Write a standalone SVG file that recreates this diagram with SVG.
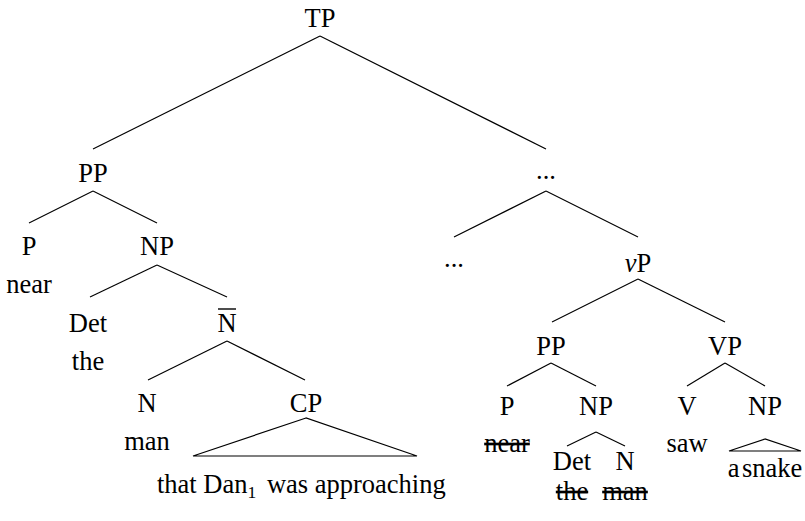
<svg xmlns="http://www.w3.org/2000/svg" width="805" height="521" viewBox="0 0 805 521">
<style>
text{font-family:'Liberation Serif','Times New Roman',serif;font-size:26.5px;fill:#000;text-anchor:middle}
.e line,.e polygon{stroke:#000;stroke-width:1.2;fill:none}
.s{text-decoration:line-through}
</style>
<rect width="805" height="521" fill="#fff"/>
<g class="e" id="edges">
<line x1="320" y1="36" x2="93" y2="149"/>
<line x1="320" y1="36" x2="546" y2="149"/>
<line x1="93" y1="191" x2="29" y2="223"/>
<line x1="93" y1="191" x2="157" y2="223"/>
<line x1="157" y1="265" x2="90" y2="297"/>
<line x1="157" y1="265" x2="227" y2="297"/>
<line x1="227" y1="341" x2="148" y2="380"/>
<line x1="227" y1="341" x2="305" y2="380"/>
<polygon points="306,418 193,456 417,456"/>
<line x1="546" y1="191" x2="454" y2="237"/>
<line x1="546" y1="191" x2="638" y2="237"/>
<line x1="638" y1="279" x2="552" y2="322"/>
<line x1="638" y1="279" x2="725" y2="322"/>
<line x1="551" y1="363" x2="507" y2="386"/>
<line x1="551" y1="363" x2="596" y2="386"/>
<line x1="725" y1="363" x2="687" y2="386"/>
<line x1="725" y1="363" x2="765" y2="386"/>
<line x1="596" y1="432" x2="567" y2="446"/>
<line x1="596" y1="432" x2="625" y2="446"/>
<polygon points="765,439 729,451 801,451"/>
</g>
<g id="TP"><text x="320" y="27">TP</text></g>
<g id="PP1"><text x="93" y="182">PP</text></g>
<g id="P1"><text x="29" y="255">P</text><text x="29" y="293">near</text></g>
<g id="NP1"><text x="157" y="255">NP</text></g>
<g id="Det1"><text x="88" y="332">Det</text><text x="88" y="370">the</text></g>
<g id="Nbar"><text x="227" y="332">N</text><line x1="218" y1="309" x2="236" y2="309" stroke="#000" stroke-width="1.4"/></g>
<g id="N1"><text x="147" y="412">N</text><text x="147" y="450">man</text></g>
<g id="CP"><text x="306" y="412">CP</text><text x="157" y="493" style="text-anchor:start">that Dan<tspan font-size="17.5" dy="5">1</tspan><tspan dx="4" dy="-5"> was approaching</tspan></text></g>
<g id="dots1"><text x="546" y="179">...</text></g>
<g id="dots2"><text x="454" y="267">...</text></g>
<g id="vP"><text x="638" y="272"><tspan font-style="italic">v</tspan>P</text></g>
<g id="PP2"><text x="551" y="355">PP</text></g>
<g id="VP"><text x="725" y="355">VP</text></g>
<g id="P2"><text x="507" y="415">P</text><text class="s" x="507" y="452">near</text></g>
<g id="NP2"><text x="596" y="415">NP</text></g>
<g id="Det2"><text x="572" y="470">Det</text><text class="s" x="572" y="500">the</text></g>
<g id="N2"><text x="625" y="470">N</text><text class="s" x="625" y="500">man</text></g>
<g id="V"><text x="687" y="415">V</text><text x="687" y="452">saw</text></g>
<g id="NP3"><text x="765" y="415">NP</text><text x="765" y="477" word-spacing="-4">a snake</text></g>
</svg>
